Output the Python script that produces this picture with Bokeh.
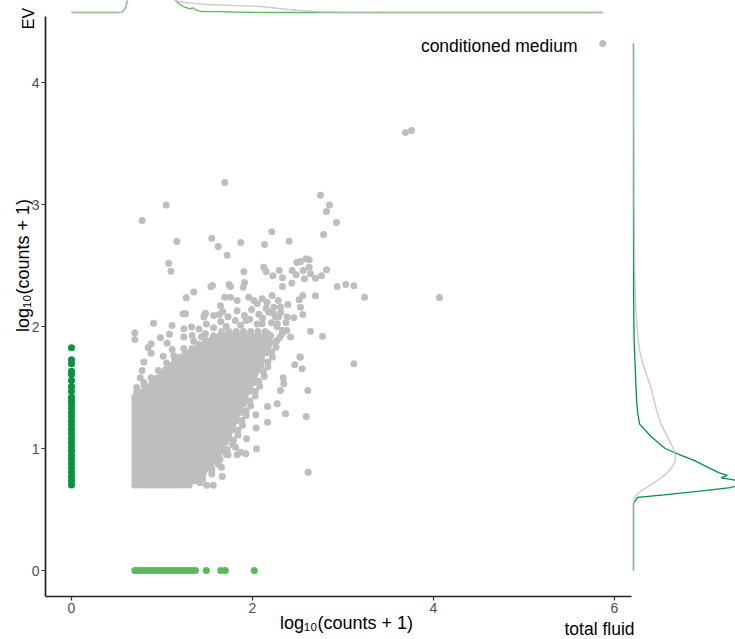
import numpy as np
from bokeh.plotting import figure
from bokeh.models import Range1d, Label, FixedTicker
from bokeh.embed import file_html
from bokeh.resources import INLINE

# ---------------- data ----------------
x_ticks = [0, 2, 4, 6]
y_ticks = [0, 1, 2, 3, 4]
axis_title = "log\u2081\u2080(counts + 1)"

# dense core of gray points: rows of log10(EV+1) with the occupied log10(total fluid+1) extent
core_row_y = [0.70, 0.735, 0.77, 0.805, 0.84, 0.875, 0.91, 0.945, 0.98, 1.015, 1.05, 1.085, 1.12,
              1.155, 1.19, 1.225, 1.26, 1.295, 1.33, 1.365, 1.40, 1.435, 1.47, 1.505, 1.54, 1.575,
              1.61, 1.645, 1.68, 1.715, 1.75, 1.785, 1.82, 1.855, 1.89, 1.925, 1.96]
core_row_lo = [0.70, 0.70, 0.70, 0.70, 0.70, 0.70, 0.70, 0.70, 0.70, 0.70, 0.70, 0.70, 0.70,
               0.70, 0.70, 0.70, 0.70, 0.70, 0.70, 0.70, 0.72, 0.76, 0.80, 0.85, 0.89, 0.94,
               0.99, 1.04, 1.09, 1.14, 1.20, 1.26, 1.33, 1.40, 1.48, 1.57, 1.66]
core_row_hi = [1.30, 1.38, 1.43, 1.47, 1.51, 1.55, 1.59, 1.63, 1.66, 1.69, 1.72, 1.75, 1.77,
               1.79, 1.81, 1.83, 1.85, 1.87, 1.89, 1.91, 1.93, 1.95, 1.98, 2.00, 2.02, 2.04,
               2.06, 2.08, 2.10, 2.12, 2.14, 2.16, 2.18, 2.20, 2.21, 2.22, 2.20]
core_row_step = [0.04] * 30 + [0.05, 0.05, 0.06, 0.06, 0.07, 0.07, 0.08]

# scattered gray points (log10(counts+1) values)
gray_x = [1.694, 1.046, 0.781, 2.751, 2.851, 2.818, 2.928, 2.214, 1.164, 1.55, 1.621, 1.871, 2.133, 2.405,
          2.785, 1.72, 1.075, 1.098, 1.904, 2.125, 2.151, 2.225, 2.295, 2.331, 2.438, 2.49, 2.53, 2.593,
          2.626, 2.626, 2.818, 2.762, 2.696, 2.641, 2.56, 2.575, 2.483, 2.434, 2.331, 2.936, 3.031, 3.12,
          3.238, 4.066, 2.696, 2.556, 2.516, 2.53, 2.556, 2.641, 2.773, 2.523, 2.379, 2.457, 2.383, 2.313,
          2.284, 1.897, 1.912, 1.742, 1.757, 1.558, 1.54, 1.352, 1.267, 1.26, 0.906, 1.112, 0.70, 0.70,
          0.983, 1.083, 0.847, 0.88, 1.013, 1.057, 1.112, 1.241, 1.326, 1.241, 1.333, 1.436, 1.462, 1.481,
          1.646, 1.632, 1.694, 1.757, 1.831, 1.959, 2.015, 2.052, 2.107, 2.162, 2.217, 2.236, 2.18, 2.254,
          2.273, 2.107, 2.173, 2.328, 2.42, 2.273,
          3.69, 3.757, 5.87,
          3.12, 2.611, 2.593, 2.365, 2.615, 2.549, 2.467, 2.53, 2.339, 2.346, 2.309, 2.273, 2.166, 2.166,
          2.037, 2.04, 2.044, 1.934, 1.926, 1.867, 1.831, 1.812, 1.72, 1.665, 1.657, 1.628, 1.731, 1.566,
          1.492, 1.444, 1.536, 1.396,
          0.70, 0.799, 0.78, 0.88, 1.234, 1.473, 0.8, 0.75, 0.72, 0.76,
          # upper band
          1.41, 1.49, 1.57, 1.65, 1.71, 1.81, 1.87, 1.97, 2.05, 2.11, 2.21, 2.29, 2.37,
          1.57, 1.67, 1.73, 1.83, 1.91, 1.99, 2.07, 2.15, 2.23, 2.31, 2.39, 1.93, 2.27, 2.33,
          # ragged right edge of the core
          1.42, 1.45, 1.55, 1.55, 1.62, 1.64, 1.71, 1.72, 1.78, 1.79, 1.84, 1.84, 1.89, 1.88, 1.93,
          1.93, 1.98, 1.97, 2.03, 2.03, 2.08, 2.07, 2.13, 2.12, 2.17, 2.17, 2.22, 2.21, 2.26, 2.25, 2.30,
          # ragged upper-left edge of the core
          0.70, 0.72, 0.80, 0.88, 0.96, 1.05, 1.13, 1.24, 1.35, 1.48]
gray_y = [3.18, 2.995, 2.869, 3.076, 2.995, 2.943, 2.852, 2.776, 2.697, 2.724, 2.656, 2.689, 2.672, 2.699,
          2.754, 2.585, 2.519, 2.453, 2.448, 2.486, 2.451, 2.416, 2.459, 2.399, 2.459, 2.525, 2.533, 2.555,
          2.547, 2.486, 2.465, 2.416, 2.396, 2.432, 2.459, 2.391, 2.424, 2.355, 2.328, 2.328, 2.344, 2.333,
          2.24, 2.238, 2.252, 2.254, 2.219, 2.158, 2.098, 1.962, 1.921, 1.749, 1.967, 2.071, 2.077, 2.115,
          2.213, 2.322, 2.361, 2.344, 2.328, 2.336, 2.325, 2.282, 2.235, 2.104, 2.027, 2.008, 1.948, 1.893,
          1.907, 1.937, 1.828, 1.781, 1.757, 1.863, 1.811, 1.981, 1.995, 1.913, 1.926, 1.916, 2.077, 2.109,
          2.17, 2.098, 2.24, 2.24, 2.213, 2.24, 2.213, 2.186, 2.227, 2.199, 2.254, 2.158, 2.117, 2.077,
          2.022, 2.022, 1.94, 1.94, 1.913, 1.885,
          3.59, 3.607, 4.32,
          1.694, 1.475, 1.262, 1.284, 0.806, 1.653, 1.686, 1.749, 1.579, 1.53, 1.475, 1.366, 1.344, 1.216,
          1.276, 1.169, 0.997, 1.079, 0.956, 0.97, 0.948, 1.011, 1.093, 0.77, 0.847, 0.923, 0.948, 0.699,
          0.699, 0.765, 0.847, 0.861,
          1.407, 1.708, 1.639, 1.858, 2.104, 2.098, 1.54, 1.46, 1.5, 1.58,
          # upper band
          1.98, 2.02, 1.99, 2.04, 2.00, 2.05, 2.01, 2.06, 2.02, 2.07, 2.03, 2.08, 2.03,
          2.09, 2.12, 2.08, 2.13, 2.09, 2.14, 2.10, 2.15, 2.11, 2.16, 2.18, 2.05, 2.00, 1.97,
          # ragged right edge of the core
          0.72, 0.75, 0.79, 0.83, 0.87, 0.91, 0.95, 0.99, 1.03, 1.07, 1.11, 1.15, 1.19, 1.23, 1.27,
          1.31, 1.35, 1.39, 1.43, 1.47, 1.51, 1.55, 1.59, 1.63, 1.67, 1.71, 1.75, 1.79, 1.83, 1.87, 1.91,
          # ragged upper-left edge of the core
          1.42, 1.46, 1.52, 1.58, 1.64, 1.70, 1.76, 1.82, 1.88, 1.94]

# EV values of features with zero total-fluid counts (dark green column at x = 0)
ev_only_y = [0.70, 0.735, 0.77, 0.805, 0.84, 0.875, 0.91, 0.945, 0.98, 1.015, 1.05, 1.085, 1.12, 1.155,
             1.19, 1.225, 1.26, 1.295, 1.33, 1.365, 1.393, 1.42, 1.47, 1.508, 1.557, 1.607, 1.634,
             1.694, 1.727, 1.825]
# total-fluid values of features with zero EV counts (light green row at y = 0)
tf_only_x = [0.70, 0.735, 0.77, 0.805, 0.84, 0.875, 0.91, 0.945, 0.98, 1.015, 1.05, 1.085, 1.12, 1.155,
             1.19, 1.225, 1.26, 1.295, 1.33, 1.37, 1.49, 1.65, 1.70, 2.02]

# marginal densities
top_grid = [0, 0.5, 0.56, 0.6, 0.63, 0.7, 0.8, 0.9, 1.0, 1.1, 1.13, 1.15, 1.2, 1.25, 1.31, 1.34, 1.37,
            1.43, 1.5, 1.65, 1.79, 2.09, 2.4, 2.75, 3.0, 3.5, 4.0, 5.0, 5.87]
top_gray = [0, 0, 0.3, 5, 14, 40, 60, 55, 40, 20, 13, 12, 11, 10, 9.5, 9.2, 9.0, 8.5, 8, 7.5, 7, 6, 3,
            0.5, 0.2, 0.1, 0.05, 0.02, 0]
top_green = [0, 0, 0.3, 5, 20, 50, 62, 55, 40, 20, 15, 12, 8, 5.3, 3.7, 4.7, 2.7, 1.0, 0.9, 0.8, 0.5,
             0.1, 0.02, 0, 0, 0, 0, 0, 0]

right_grid = [0, 0.55, 0.6, 0.62, 0.65, 0.68, 0.7, 0.72, 0.74, 0.76, 0.78, 0.8, 0.85, 0.9, 0.95, 1.0,
              1.05, 1.1, 1.2, 1.3, 1.4, 1.5, 1.6, 1.7, 1.8, 1.9, 2.0, 2.2, 2.5, 3.0, 3.6, 4.32]
right_gray = [0, 0, 0.01, 0.03, 0.07, 0.13, 0.16, 0.2, 0.24, 0.27, 0.3, 0.33, 0.38, 0.41, 0.41, 0.39,
              0.36, 0.33, 0.27, 0.23, 0.2, 0.17, 0.13, 0.09, 0.06, 0.045, 0.035, 0.02, 0.01, 0.005, 0.003, 0]
right_green = [0, 0, 0.04, 0.3, 0.65, 0.95, 1.05, 1.05, 1.0, 0.86, 0.92, 0.84, 0.72, 0.6, 0.45, 0.31,
               0.24, 0.17, 0.06, 0.04, 0.03, 0.025, 0.02, 0.015, 0.01, 0.006, 0.004, 0.002, 0.001, 0, 0, 0]

# ---------------- colours ----------------
GRAY = "#BEBEBE"
DARK_GREEN = "#00953F"
LIGHT_GREEN = "#5DB75D"
FONT = "Liberation Sans"

# ---------------- expand dense core rows ----------------
core_x, core_y = [], []
for ry, lo, hi, st in zip(core_row_y, core_row_lo, core_row_hi, core_row_step):
    for xv in np.arange(lo, hi + 1e-9, st):
        core_x.append(float(xv))
        core_y.append(ry)

# ---------------- figure (frame = whole canvas) ----------------
W, H = 735, 639
# pixel geometry: x=0 at 71px, 90.5 px per unit; y=0 at 570px, 122 px per unit
X0, XS = 71.0, 90.5
Y0, YS = 570.0, 122.0
x_start, x_end = (0 - X0) / XS, (W - X0) / XS
y_end, y_start = (Y0 - 0) / YS, (Y0 - H) / YS

p = figure(width=W, height=H, x_range=Range1d(x_start, x_end), y_range=Range1d(y_start, y_end),
           output_backend="svg", toolbar_location=None,
           min_border_left=0, min_border_bottom=0, min_border_top=0, min_border_right=0)
p.outline_line_color = None
p.xgrid.grid_line_color = None
p.ygrid.grid_line_color = None
p.background_fill_color = "white"
p.border_fill_color = "white"

# marginal ranges (top: 1 unit = 1 px above baseline at y=12px; right: 1 unit = 102 px from x=633px)
p.extra_y_ranges = {"top": Range1d(-(H - 12), 12)}
p.extra_x_ranges = {"right": Range1d(-633 / 102.0, (W - 633) / 102.0)}

axis_x_pos = (Y0 - 596) / YS     # x axis line at 596 px
axis_y_pos = (45 - X0) / XS      # y axis line at 45 px

for ax in (p.xaxis[0], p.yaxis[0]):
    ax.axis_line_color = "#222222"
    ax.axis_line_width = 1.7
    ax.major_tick_line_color = "#333333"
    ax.major_tick_line_width = 1.2
    ax.major_tick_in = 0
    ax.major_tick_out = 4
    ax.minor_tick_line_color = None
    ax.major_label_text_font = FONT
    ax.major_label_text_font_size = "14px"
    ax.major_label_text_color = "#4D4D4D"
    ax.major_label_standoff = 2

p.xaxis[0].ticker = FixedTicker(ticks=x_ticks)
p.yaxis[0].ticker = FixedTicker(ticks=y_ticks)
p.xaxis[0].fixed_location = axis_x_pos
p.yaxis[0].fixed_location = axis_y_pos
p.xaxis[0].bounds = (axis_y_pos, (631 - X0) / XS)
p.yaxis[0].bounds = (axis_x_pos, (Y0 - 16) / YS)

# scatter
p.scatter(core_x, core_y, size=7, color=GRAY, line_color=None)
p.scatter(gray_x, gray_y, size=7, color=GRAY, line_color=None)
p.scatter([0] * len(ev_only_y), ev_only_y, size=7, color=DARK_GREEN, line_color=None)
p.scatter(tf_only_x, [0] * len(tf_only_x), size=7, color=LIGHT_GREEN, line_color=None)

# marginal densities
p.line(top_grid, top_green, y_range_name="top", color=LIGHT_GREEN, line_width=1.3)
p.line(top_grid, top_gray, y_range_name="top", color=GRAY, line_width=1.5, line_alpha=0.75)
p.line(right_green, right_grid, x_range_name="right", color=DARK_GREEN, line_width=1.3)
p.line(right_gray, right_grid, x_range_name="right", color=GRAY, line_width=1.5, line_alpha=0.75)

# texts (screen units measured from the frame's bottom-left corner)
def add_text(txt, px, py, align="center", angle=0.0, size="17.5px"):
    p.add_layout(Label(x=px, y=H - py, x_units="screen", y_units="screen", text=txt,
                       text_align=align, text_baseline="middle", angle=angle,
                       text_font=FONT, text_font_size=size, text_color="black"))

add_text(axis_title, 346, 622, size="18px")
add_text(axis_title, 22, 265, angle=np.pi / 2, size="18px")
add_text("conditioned medium", 577, 45, align="right")
add_text("EV", 28, 18, angle=np.pi / 2, size="16px")
add_text("total fluid", 634, 628, align="right")

open("out.html", "w").write(file_html(p, INLINE))
